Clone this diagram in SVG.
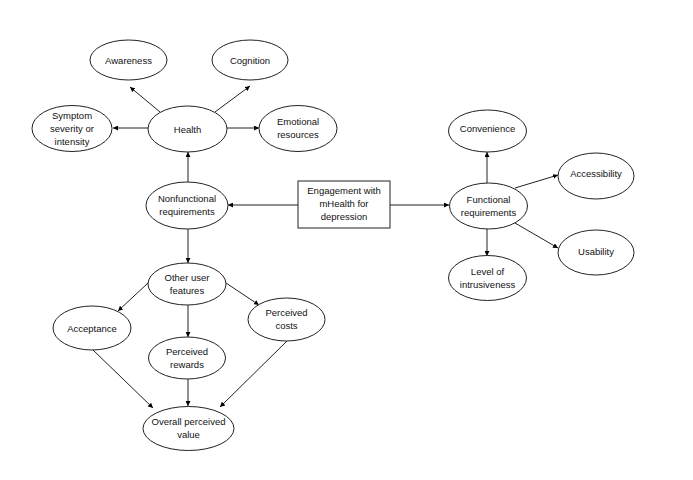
<svg xmlns="http://www.w3.org/2000/svg" width="693" height="480" viewBox="0 0 693 480">
<defs>
<marker id="ah" viewBox="0 0 10 10" refX="10" refY="5" markerWidth="5" markerHeight="5" orient="auto" markerUnits="userSpaceOnUse">
<path d="M0,0 L10,5 L0,10 z" fill="#000"/>
</marker>
<style>
.n ellipse, .n rect { fill: #fff; stroke: #222; stroke-width: 1; }
.n text { font-family: "Liberation Sans", Arial, sans-serif; font-size: 9.5px; fill: #111; text-anchor: middle; }
#edges line { stroke: #222; stroke-width: 1; marker-end: url(#ah); }
</style>
</defs>
<rect width="693" height="480" fill="#fff"/>
<g id="edges">
<line x1="160" y1="112" x2="130" y2="87"/>
<line x1="215" y1="112" x2="250" y2="86"/>
<line x1="148" y1="128" x2="113" y2="128"/>
<line x1="227" y1="128" x2="259" y2="128"/>
<line x1="188" y1="182" x2="188" y2="152"/>
<line x1="298" y1="205" x2="228" y2="205"/>
<line x1="390" y1="205" x2="449" y2="205"/>
<line x1="188" y1="229" x2="188" y2="263"/>
<line x1="148" y1="283" x2="118" y2="311"/>
<line x1="188" y1="305" x2="188" y2="337"/>
<line x1="226" y1="283" x2="259" y2="305"/>
<line x1="93" y1="350" x2="153" y2="408"/>
<line x1="188" y1="379" x2="188" y2="406"/>
<line x1="287" y1="341" x2="220" y2="407"/>
<line x1="487" y1="183" x2="487" y2="152"/>
<line x1="515" y1="188" x2="558" y2="175"/>
<line x1="515" y1="223" x2="558" y2="248"/>
<line x1="487" y1="229" x2="487" y2="256"/>
</g>
<g id="awareness" class="n"><ellipse cx="128.5" cy="60" rx="38.5" ry="20"/><text x="128.5" y="63.5">Awareness</text></g>
<g id="cognition" class="n"><ellipse cx="250" cy="60" rx="38" ry="20"/><text x="250" y="63.5">Cognition</text></g>
<g id="symptom" class="n"><ellipse cx="72" cy="128.5" rx="40" ry="23"/><text x="72" y="118.5">Symptom</text><text x="72" y="131.5">severity or</text><text x="72" y="144.5">intensity</text></g>
<g id="health" class="n"><ellipse cx="187.5" cy="129" rx="39.5" ry="23"/><text x="187.5" y="132.5">Health</text></g>
<g id="emotional" class="n"><ellipse cx="298" cy="128.5" rx="39" ry="23"/><text x="298" y="125">Emotional</text><text x="298" y="138">resources</text></g>
<g id="nonfunctional" class="n"><ellipse cx="187" cy="205.5" rx="41" ry="23.5"/><text x="187" y="202">Nonfunctional</text><text x="187" y="215">requirements</text></g>
<g id="engagement" class="n"><rect x="298" y="181" width="92" height="47"/><text x="344" y="194">Engagement with</text><text x="344" y="207">mHealth for</text><text x="344" y="220">depression</text></g>
<g id="functional" class="n"><ellipse cx="488.5" cy="206" rx="39" ry="23"/><text x="488.5" y="202.5">Functional</text><text x="488.5" y="215.5">requirements</text></g>
<g id="convenience" class="n"><ellipse cx="487.5" cy="131" rx="39" ry="21"/><text x="487.5" y="132">Convenience</text></g>
<g id="accessibility" class="n"><ellipse cx="596" cy="176" rx="38" ry="23"/><text x="596" y="177">Accessibility</text></g>
<g id="usability" class="n"><ellipse cx="596" cy="252.5" rx="38" ry="22.5"/><text x="596" y="255">Usability</text></g>
<g id="intrusiveness" class="n"><ellipse cx="487.5" cy="278" rx="39" ry="22.5"/><text x="487.5" y="275">Level of</text><text x="487.5" y="288">intrusiveness</text></g>
<g id="other" class="n"><ellipse cx="187" cy="284" rx="39" ry="21"/><text x="187" y="280.5">Other user</text><text x="187" y="293.5">features</text></g>
<g id="acceptance" class="n"><ellipse cx="92" cy="328" rx="39" ry="22"/><text x="92" y="331.5">Acceptance</text></g>
<g id="rewards" class="n"><ellipse cx="187" cy="358" rx="38.5" ry="21"/><text x="187" y="354.5">Perceived</text><text x="187" y="367.5">rewards</text></g>
<g id="costs" class="n"><ellipse cx="286.5" cy="319.5" rx="38.5" ry="21.5"/><text x="286.5" y="316">Perceived</text><text x="286.5" y="329">costs</text></g>
<g id="overall" class="n"><ellipse cx="188.5" cy="428.5" rx="45.5" ry="22"/><text x="188.5" y="425">Overall perceived</text><text x="188.5" y="438">value</text></g>
</svg>
